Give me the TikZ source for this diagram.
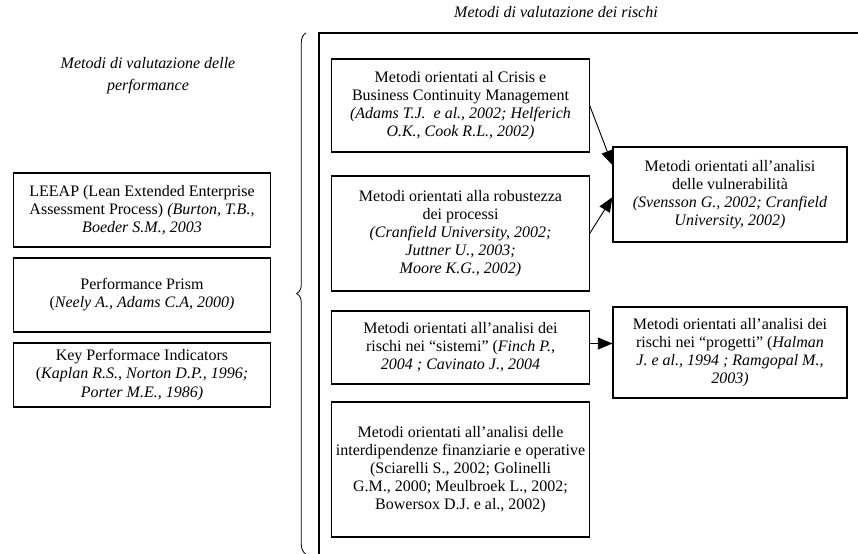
\documentclass[tikz,border=0pt]{standalone}
\usepackage{fontspec}
\setmainfont{Liberation Serif}
\usetikzlibrary{arrows.meta,decorations.pathreplacing}

\tikzset{
  box/.style={draw, line width=0.8pt, align=center, inner sep=0pt, minimum width=193pt},
  rbox/.style={box, minimum width=175.5pt},
  arr/.style={-{Triangle[length=11pt,width=9pt]}, line width=0.7pt}
}

\begin{document}
\begin{tikzpicture}[x=0.75pt,y=-0.75pt, font=\fontsize{12}{13.6}\selectfont]
\useasboundingbox (0,0) rectangle (858,554);

% ===== Titles =====
\node[align=center, font=\fontsize{12}{16.5}\selectfont\itshape] (tperf) at (148,76)
  {Metodi di valutazione delle\\performance};
\node[font=\fontsize{12}{13.6}\selectfont\itshape] (trisk) at (556,12)
  {Metodi di valutazione dei rischi};

% ===== Left column: performance =====
\node[box, minimum height=55.5pt] (leeap) at (142,210)
  {LEEAP (Lean Extended Enterprise\\Assessment Process) \textit{(Burton, T.B.,}\\\textit{Boeder S.M., 2003}};
\node[box, minimum height=55.5pt] (prism) at (142,295)
  {Performance Prism\\(\textit{Neely A., Adams C.A, 2000)}};
\node[box, minimum height=48pt] (kpi) at (142,375)
  {Key Performace Indicators\\(\textit{Kaplan R.S., Norton D.P., 1996;}\\\textit{Porter M.E., 1986)}};

% ===== Brace and frame =====
\draw[decorate, decoration={brace, amplitude=7pt}, line width=0.6pt] (306,554) -- (306,33);
\draw[line width=0.9pt] (319,554) -- (319,33) -- (858,33);

% ===== Right column: risk =====
\node[box, minimum height=69.75pt] (crisis) at (460.5,105.5)
  {Metodi orientati al Crisis e\\Business Continuity Management\\\textit{(Adams T.J.\ \ e al., 2002; Helferich}\\\textit{O.K., Cook R.L., 2002)}};
\node[box, minimum height=86.25pt] (robust) at (460.5,233.5)
  {Metodi orientati alla robustezza\\dei processi\\\textit{(Cranfield University, 2002;}\\\textit{Juttner U., 2003;}\\\textit{Moore K.G., 2002)}};
\node[box, minimum height=54.75pt] (sist) at (460.5,347.5)
  {Metodi orientati all’analisi dei\\rischi nei “sistemi” (\textit{Finch P.,}\\\textit{2004 ; Cavinato J., 2004}};
\node[box, minimum height=101.25pt] (interd) at (460.5,469.5)
  {Metodi orientati all’analisi delle\\interdipendenze finanziarie e operative\\(Sciarelli S., 2002; Golinelli\\G.M., 2000; Meulbroek L., 2002;\\Bowersox D.J. e al., 2002)};

\node[rbox, minimum height=71.25pt] (vuln) at (730,194.5)
  {Metodi orientati all’analisi\\delle vulnerabilità\\\textit{(Svensson G., 2002; Cranfield}\\\textit{University, 2002)}};
\node[rbox, minimum height=68.25pt] (prog) at (730,352.5)
  {Metodi orientati all’analisi dei\\rischi nei “progetti” (\textit{Halman}\\\textit{J. e al., 1994 ; Ramgopal M.,}\\\textit{2003)}};

% ===== Arrows =====
\draw[arr] (crisis.east) -- ([yshift=22pt]vuln.west);
\draw[arr] (robust.east) -- ([yshift=-2pt]vuln.west);
\draw[arr] ([yshift=3pt]sist.east) -- ([yshift=3pt]sist.east -| prog.west);

\end{tikzpicture}
\end{document}
